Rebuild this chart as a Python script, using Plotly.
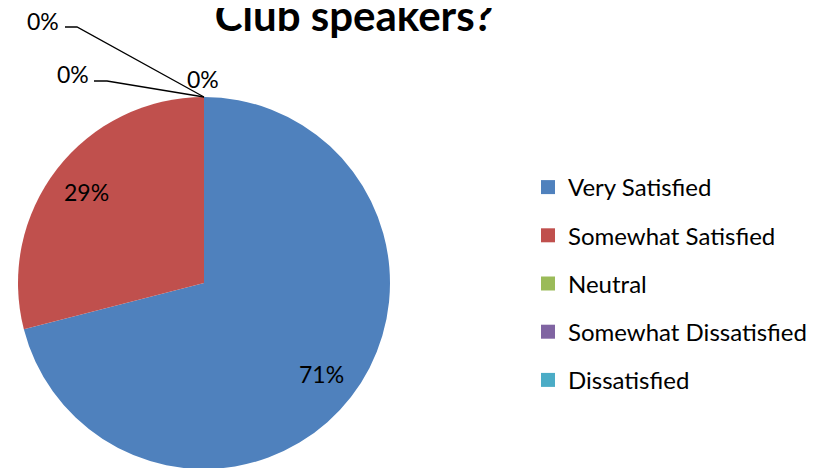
import math
import plotly.graph_objects as go

# ---- data ----
categories = ["Very Satisfied", "Somewhat Satisfied", "Neutral",
              "Somewhat Dissatisfied", "Dissatisfied"]
values = [71, 29, 0, 0, 0]
colors = ["#4F81BD", "#C0504D", "#9BBB59", "#8064A2", "#4BACC6"]
title_text = "Club speakers?"

# ---- layout constants ----
W, H = 825, 468
OFF = 8  # page body margin: page pixel = figure pixel + OFF
FONT = "Lato"


def fx(px):  # page pixel x -> figure pixel x
    return px - OFF


def fy(py):
    return py - OFF


dom_x = [fx(18) / W, fx(390) / W]
dom_y = [(H - fy(469)) / H, 1 - fy(97) / H]

fig = go.Figure()
fig.add_trace(go.Pie(
    labels=categories, values=values,
    marker=dict(colors=colors, line=dict(width=0)),
    sort=False, direction="clockwise", rotation=0,
    textinfo="none", showlegend=False, hoverinfo="label+percent",
    domain=dict(x=dom_x, y=dom_y),
))

# legend entries (square swatches)
for name, col in zip(categories, colors):
    fig.add_trace(go.Scatter(
        x=[None], y=[None], mode="markers", name=name,
        marker=dict(symbol="square", size=14, color=col),
        legendgroup=name, showlegend=True, hoverinfo="skip",
    ))

# pie geometry in figure pixels (derived from domain)
pw = (dom_x[1] - dom_x[0]) * W
ph = (dom_y[1] - dom_y[0]) * H
R = min(pw, ph) / 2
cx = (dom_x[0] + dom_x[1]) / 2 * W
cy = H - (dom_y[0] + dom_y[1]) / 2 * H


def to_paper(px, py):  # figure pixels -> paper
    return px / W, 1 - py / H


total = sum(values)
annotations = []
shapes = []
zero_slots = [  # label centre and leader elbow (page pixels) for zero slices
    ((43, 21), [(65, 27), (77, 27)]),
    ((73, 74), [(94, 81), (107, 81)]),
    ((203, 79), None),
]
LABEL_FONT = dict(family=FONT, size=23, color="#000000")
zi = 0
cum = 0.0
top_x, top_y = cx, cy - R
for v in values:
    frac = v / total
    pct = f"{round(frac * 100):.0f}%"
    if v > 0:
        mid = (cum + frac / 2) * 2 * math.pi
        lx = cx + 0.8 * R * math.sin(mid)
        ly = cy - 0.8 * R * math.cos(mid)
        xp, yp = to_paper(lx, ly)
    else:
        (lx, ly), leader = zero_slots[zi]
        zi += 1
        xp, yp = to_paper(fx(lx), fy(ly))
        if leader:
            pts = [(fx(a), fy(b)) for a, b in leader] + [(top_x, top_y)]
            path = "M " + " L ".join(
                "{:.5f},{:.5f}".format(*to_paper(a, b)) for a, b in pts)
            shapes.append(dict(type="path", xref="paper", yref="paper", path=path,
                               line=dict(color="#000000", width=1.3)))
    annotations.append(dict(x=xp, y=yp, xref="paper", yref="paper",
                            xanchor="center", yanchor="middle", borderpad=0,
                            text=pct, showarrow=False, font=LABEL_FONT))
    cum += frac

fig.update_layout(
    width=W, height=H,
    margin=dict(l=0, r=0, t=0, b=0),
    paper_bgcolor="#FFFFFF", plot_bgcolor="#FFFFFF",
    font=dict(family=FONT, color="#000000"),
    title=dict(text=f"<b>{title_text}</b>", x=fx(354) / W, xanchor="center",
               yref="container", y=1 - fy(16) / H, yanchor="middle",
               font=dict(family=FONT, size=42, color="#000000")),
    xaxis=dict(visible=False), yaxis=dict(visible=False),
    legend=dict(x=fx(528) / W, xanchor="left", y=1 - fy(165) / H, yanchor="top",
                font=dict(family=FONT, size=24, color="#000000"),
                tracegroupgap=14, bgcolor="rgba(0,0,0,0)"),
    annotations=annotations, shapes=shapes,
)

fig.write_html("out.html")
